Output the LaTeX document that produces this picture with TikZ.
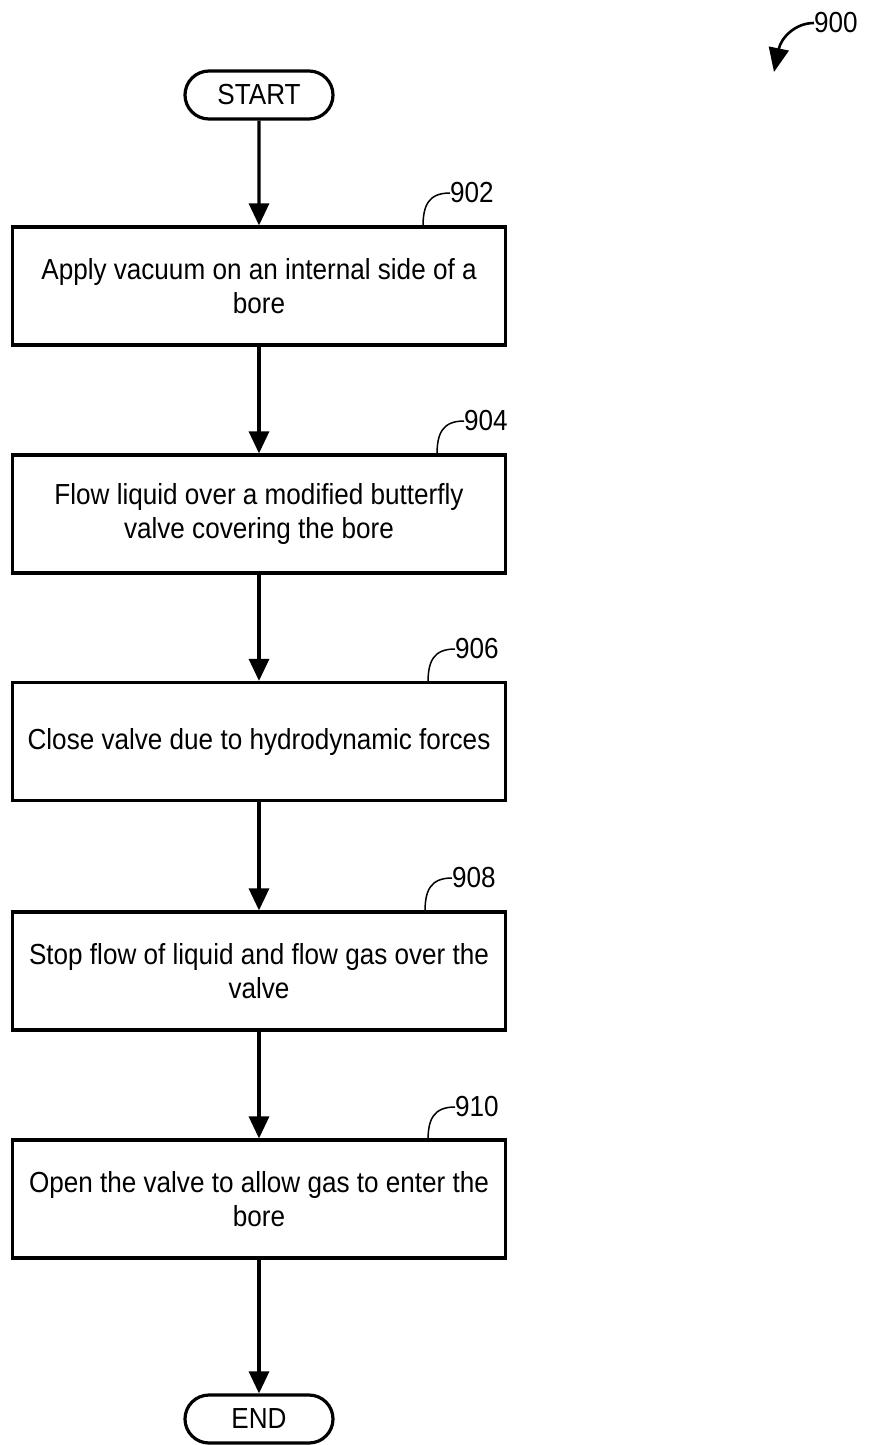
\documentclass[tikz,border=0pt]{standalone}
\usepackage{fontspec}
\setmainfont{Liberation Sans}[FakeStretch=0.9]
\usetikzlibrary{arrows.meta,shapes.misc}
\begin{document}
\begin{tikzpicture}[x=1pt,y=-1pt,
  stepbox/.style={draw,line width=3.2pt,minimum width=493pt,minimum height=118pt,align=center,font=\fontsize{29}{34}\selectfont,inner sep=0pt},
  term/.style={draw,line width=3.2pt,rounded rectangle,minimum width=148pt,minimum height=48pt,font=\fontsize{29}{34}\selectfont,inner sep=0pt},
  flow/.style={line width=3.2pt,-{Triangle[length=22pt,width=20pt]}},
  lead/.style={line width=1.5pt},
  reflabel/.style={font=\fontsize{29}{34}\selectfont,inner sep=0pt,anchor=west}]
\useasboundingbox (0,0) rectangle (874,1445);
\node[term] (start) at (259,95) {START};
\node[stepbox] (s902) at (259,286) {Apply vacuum on an internal side of a\\bore};
\node[stepbox] (s904) at (259,514) {Flow liquid over a modified butterfly\\valve covering the bore};
\node[stepbox] (s906) at (259,741.5) {Close valve due to hydrodynamic forces};
\node[stepbox] (s908) at (259,971) {Stop flow of liquid and flow gas over the\\valve};
\node[stepbox] (s910) at (259,1199) {Open the valve to allow gas to enter the\\bore};
\node[term] (end) at (259,1419) {END};
\draw[flow] (start) -- (s902);
\draw[flow] (s902) -- (s904);
\draw[flow] (s904) -- (s906);
\draw[flow] (s906) -- (s908);
\draw[flow] (s908) -- (s910);
\draw[flow] (s910) -- (end);
% reference labels
\node[reflabel] (l902) at (450,193) {902};
\draw[lead] (l902.west) .. controls (428,193) and (423,206) .. (423,227);
\node[reflabel] (l904) at (464,421) {904};
\draw[lead] (l904.west) .. controls (442,421) and (437,434) .. (437,455);
\node[reflabel] (l906) at (455,649) {906};
\draw[lead] (l906.west) .. controls (433,649) and (428,662) .. (428,683);
\node[reflabel] (l908) at (452,878) {908};
\draw[lead] (l908.west) .. controls (430,878) and (425,891) .. (425,912);
\node[reflabel] (l910) at (455,1107) {910};
\draw[lead] (l910.west) .. controls (433,1107) and (428,1120) .. (428,1141);
\node[reflabel] (l900) at (814,23) {900};
\coordinate (a900) at (774,72);
\draw[line width=2.6pt,-{Triangle[length=24pt,width=20pt]}] (l900.west) .. controls (795,23) and (781,38) .. (a900);
\end{tikzpicture}
\end{document}
